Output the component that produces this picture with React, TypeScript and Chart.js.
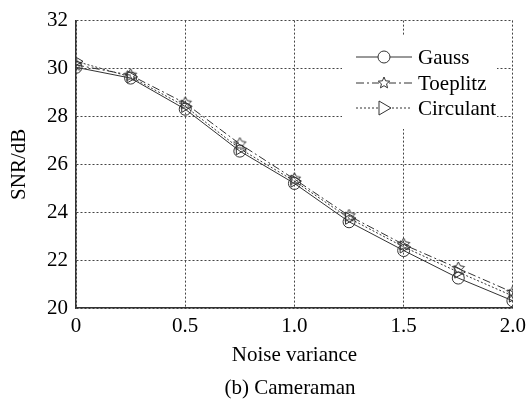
import React, { useEffect, useRef } from "react";
import { Chart, registerables } from "chart.js";

Chart.register(...registerables);

const noiseVariance = [0, 0.25, 0.5, 0.75, 1.0, 1.25, 1.5, 1.75, 2.0];
const gauss = [30.05, 29.6, 28.3, 26.55, 25.2, 23.6, 22.4, 21.25, 20.3];
const toeplitz = [30.15, 29.72, 28.55, 26.85, 25.38, 23.85, 22.65, 21.65, 20.65];
const circulant = [30.3, 29.65, 28.42, 26.65, 25.3, 23.75, 22.55, 21.5, 20.5];
const seriesNames = ["Gauss", "Toeplitz", "Circulant"];
const yTicks = [20, 22, 24, 26, 28, 30, 32];
const xTicks = [0, 0.5, 1.0, 1.5, 2.0];
const caption = "(b) Cameraman";

const INK = "#333333";
const FONT = "Liberation Serif";
const FS = 21;

function makeStar(size: number): HTMLCanvasElement {
  const c = document.createElement("canvas");
  c.width = size;
  c.height = size;
  const ctx = c.getContext("2d")!;
  drawStar(ctx, size / 2, size / 2, size / 2 - 1, size / 4.5);
  return c;
}

function drawStar(ctx: CanvasRenderingContext2D, cx: number, cy: number, ro: number, ri: number) {
  ctx.save();
  ctx.beginPath();
  for (let i = 0; i < 10; i++) {
    const r = i % 2 === 0 ? ro : ri;
    const a = -Math.PI / 2 + (i * Math.PI) / 5;
    const x = cx + r * Math.cos(a);
    const y = cy + r * Math.sin(a);
    if (i === 0) ctx.moveTo(x, y);
    else ctx.lineTo(x, y);
  }
  ctx.closePath();
  ctx.strokeStyle = INK;
  ctx.lineWidth = 1;
  ctx.setLineDash([]);
  ctx.stroke();
  ctx.restore();
}

const legendPlugin = {
  id: "customLegend",
  afterDraw(chart: any) {
    const ctx: CanvasRenderingContext2D = chart.ctx;
    ctx.save();
    ctx.fillStyle = "#ffffff";
    ctx.fillRect(342, 36, 155, 93);
    const rows = [57, 83, 108];
    const dashes = [[], [8, 3, 2, 3], [2, 2]];
    rows.forEach((y, i) => {
      ctx.beginPath();
      ctx.setLineDash(dashes[i]);
      ctx.strokeStyle = INK;
      ctx.lineWidth = 1;
      ctx.moveTo(356, y);
      ctx.lineTo(412, y);
      ctx.stroke();
      ctx.setLineDash([]);
      const cx = 384;
      if (i === 0) {
        ctx.fillStyle = "#fff";
        ctx.beginPath();
        ctx.arc(cx, y, 6, 0, Math.PI * 2);
        ctx.fill();
        ctx.stroke();
      } else if (i === 1) {
        ctx.fillStyle = "#fff";
        ctx.fillRect(cx - 5, y - 5, 10, 10);
        drawStar(ctx, cx, y, 6, 2.7);
      } else {
        ctx.fillStyle = "#fff";
        ctx.beginPath();
        ctx.moveTo(cx - 5, y - 7);
        ctx.lineTo(cx + 7, y);
        ctx.lineTo(cx - 5, y + 7);
        ctx.closePath();
        ctx.fill();
        ctx.stroke();
      }
      ctx.fillStyle = "#000";
      ctx.font = `${FS}px "${FONT}"`;
      ctx.textBaseline = "middle";
      ctx.textAlign = "left";
      ctx.fillText(seriesNames[i], 418, y + 1);
    });
    // caption below the chart
    ctx.font = `${FS}px "${FONT}"`;
    ctx.textAlign = "center";
    ctx.textBaseline = "middle";
    ctx.fillStyle = "#000";
    ctx.fillText(caption, 290, 388);
    ctx.restore();
  },
};

export default function App() {
  const ref = useRef<HTMLCanvasElement>(null);
  useEffect(() => {
    document.body.style.margin = "0";
    const star = makeStar(15);
    const common = {
      borderColor: INK,
      borderWidth: 1,
      backgroundColor: "rgba(255,255,255,0)",
      pointBorderColor: INK,
      pointBackgroundColor: "rgba(255,255,255,0)",
      pointBorderWidth: 1,
      pointRadius: 6,
      tension: 0,
    };
    const chart = new Chart(ref.current!, {
      type: "line",
      data: {
        labels: noiseVariance,
        datasets: [
          {
            ...common,
            label: seriesNames[0],
            data: noiseVariance.map((x, i) => ({ x, y: gauss[i] })),
            pointStyle: "circle",
          },
          {
            ...common,
            label: seriesNames[1],
            data: noiseVariance.map((x, i) => ({ x, y: toeplitz[i] })),
            borderDash: [8, 3, 2, 3],
            pointStyle: star as any,
          },
          {
            ...common,
            label: seriesNames[2],
            data: noiseVariance.map((x, i) => ({ x, y: circulant[i] })),
            borderDash: [2, 2],
            pointStyle: "triangle",
            pointRotation: 90,
            pointRadius: 7,
          },
        ],
      },
      options: {
        responsive: false,
        animation: false,
        layout: { padding: { top: 20, right: 17, left: 0, bottom: 32 } },
        plugins: {
          legend: { display: false },
          tooltip: { enabled: false },
          title: { display: false },
        },
        scales: {
          x: {
            type: "linear",
            min: 0,
            max: 2,
            afterBuildTicks: (s: any) => {
              s.ticks = xTicks.map((v) => ({ value: v }));
            },
            afterFit: (s: any) => {
              s.height = 60;
            },
            ticks: {
              color: "#000",
              font: { family: FONT, size: FS },
              padding: 6,
              maxRotation: 0,
              callback: (v: any) => (Number(v) === 0 ? "0" : Number(v).toFixed(1)),
            },
            grid: {
              color: "#444",
              lineWidth: 1,
              drawTicks: false,
            },
            border: { display: true, color: INK, width: 1.5, dash: [2, 2] },
            title: {
              display: true,
              text: "Noise variance",
              color: "#000",
              font: { family: FONT, size: FS },
              padding: { top: 0, bottom: 0 },
            },
          },
          y: {
            type: "linear",
            min: 20,
            max: 32,
            afterBuildTicks: (s: any) => {
              s.ticks = yTicks.map((v) => ({ value: v }));
            },
            afterFit: (s: any) => {
              s.width = 76;
            },
            ticks: {
              color: "#000",
              font: { family: FONT, size: FS },
              padding: 8,
            },
            grid: {
              color: "#444",
              lineWidth: 1,
              drawTicks: false,
            },
            border: { display: true, color: INK, width: 1.5, dash: [2, 2] },
            title: {
              display: true,
              text: "SNR/dB",
              color: "#000",
              font: { family: FONT, size: FS },
              padding: { top: 7, bottom: 4 },
            },
          },
        },
      },
      plugins: [legendPlugin],
    } as any);
    return () => chart.destroy();
  }, []);
  return <canvas ref={ref} width={532} height={400} style={{ display: "block" }} />;
}
